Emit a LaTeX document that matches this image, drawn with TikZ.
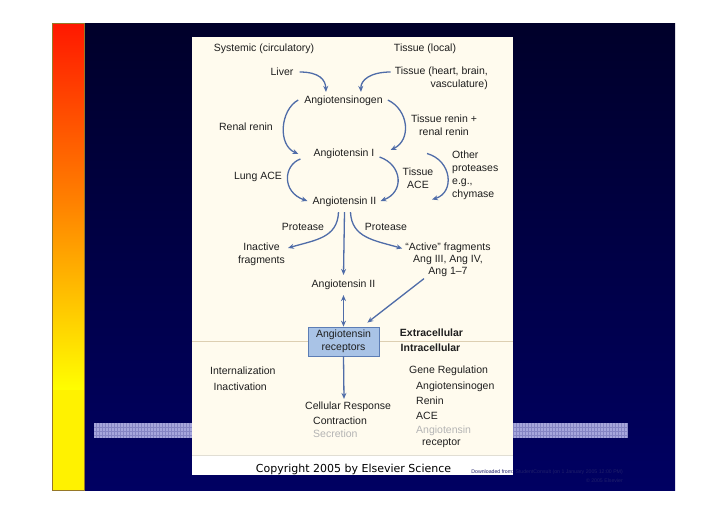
\documentclass[tikz,border=0pt]{standalone}
\usepackage{fontspec}
\setmainfont{Liberation Sans}
\newfontfamily\cfont{DejaVu Sans}
\usetikzlibrary{arrows.meta,calc}
\definecolor{arrc}{HTML}{4F6CA8}
\definecolor{txt}{HTML}{1E1E1E}
\definecolor{fadetxt}{HTML}{B4B4B4}
\definecolor{cream}{HTML}{FFFBEE}
\definecolor{boxfill}{HTML}{A9C3E6}
\definecolor{boxline}{HTML}{5C7DB5}
\definecolor{sepline}{HTML}{DDCFB2}
\definecolor{bgtop}{HTML}{00002A}
\definecolor{bgbot}{HTML}{000062}
\definecolor{bandc}{HTML}{A6A6DC}
\definecolor{bandl}{HTML}{8585C4}
\definecolor{tinyc}{HTML}{20206A}
\begin{document}
\begin{tikzpicture}[x=1pt,y=-1pt,
  lbl/.style={inner sep=0pt, text=txt, font=\fontsize{10.5}{13}\selectfont, align=center},
  lbll/.style={lbl, anchor=west, align=left},
  arr/.style={draw=arrc, line width=1.3pt, -{Stealth[length=6pt,width=5pt]}},
  darr/.style={draw=arrc, line width=1.3pt, {Stealth[length=6pt,width=5pt]}-{Stealth[length=6pt,width=5pt]}},
]
\useasboundingbox (0,0) rectangle (728,515);
\fill[white] (0,0) rectangle (728,515);
% slide background
\shade[top color=bgtop, bottom color=bgbot] (84,23) rectangle (675,490);
% left gradient bar
\shade[top color={rgb,255:red,255;green,24;blue,0}, bottom color={rgb,255:red,255;green,128;blue,0}] (52,23) rectangle (84,200);
\shade[top color={rgb,255:red,255;green,128;blue,0}, bottom color=yellow] (52,200) rectangle (84,390);
\fill[yellow] (52,390) rectangle (84,490);
\draw[draw={rgb,255:red,150;green,120;blue,40}, line width=0.5pt] (52,23) rectangle (84,490);
% band
\fill[bandc] (94,423) rectangle (628,438);
\foreach \x in {96,99,...,627} \draw[bandl, line width=0.5pt] (\x,423) -- (\x,438);
\foreach \y in {427,431,435} \draw[bandl, line width=0.5pt] (94,\y) -- (628,\y);
% panel
\fill[cream] (192,37) rectangle (513,455);
\fill[white] (192,455) rectangle (513,475);
\draw[draw={rgb,255:red,225;green,222;blue,212}, line width=0.8pt] (192,455) -- (513,455);
\draw[sepline, line width=1pt] (192,341) -- (513,341);

% texts
\node[lbl] (sys) at (264,49) {Systemic (circulatory)};
\node[lbl] (tisloc) at (425,49) {Tissue (local)};
\node[lbl] (liver) at (282,72) {Liver};
\node[lbl, anchor=east, align=right] (tisheart) at (488,78.5) {Tissue (heart, brain,\\vasculature)};
\node[lbl] (agt) at (343.5,101) {Angiotensinogen};
\node[lbl] (renal) at (246,127) {Renal renin};
\node[lbl] (tisrenin) at (444,125.5) {Tissue renin +\\renal renin};
\node[lbl] (ang1) at (344,154) {Angiotensin I};
\node[lbl] (lungace) at (258,177) {Lung ACE};
\node[lbl] (tisace) at (418,178.5) {Tissue\\ACE};
\node[lbl, anchor=west, align=left] (other) at (452,175.5) {Other\\proteases\\e.g.,\\chymase};
\node[lbl] (ang2) at (344.5,202) {Angiotensin II};
\node[lbl] (protL) at (303,227) {Protease};
\node[lbl] (protR) at (386,227) {Protease};
\node[lbl] (inact) at (261.5,254) {Inactive\\fragments};
\node[lbl, font=\fontsize{10.5}{12}\selectfont] (active) at (448,259.5) {``Active'' fragments\\Ang III, Ang IV,\\Ang 1--7};
\node[lbl] (ang2b) at (343.5,285) {Angiotensin II};
\node[lbl, fill=boxfill, draw=boxline, line width=0.8pt, minimum width=71pt, minimum height=29pt] (rec) at (343.5,341.5) {Angiotensin\\receptors};
\node[lbl, font=\bfseries\fontsize{10.5}{13}\selectfont] (extra) at (431.5,333) {Extracellular};
\node[lbl, font=\bfseries\fontsize{10.5}{13}\selectfont] (intra) at (430.5,348) {Intracellular};
\node[lbll] (intern) at (210,371) {Internalization};
\node[lbll] (inactiv) at (213.5,386.5) {Inactivation};
\node[lbll] (cellresp) at (305,407) {Cellular Response};
\node[lbll] (contr) at (313,421) {Contraction};
\node[lbll, text=fadetxt] (secr) at (313,434) {Secretion};
\node[lbll] (gene) at (409,371) {Gene Regulation};
\node[lbll] (gagt) at (416,387) {Angiotensinogen};
\node[lbll] (grenin) at (416,401) {Renin};
\node[lbll] (gace) at (416,416) {ACE};
\node[lbll, text=fadetxt] (gang) at (416,431) {Angiotensin};
\node[lbll] (grec) at (422,443) {receptor};

\node[inner sep=0pt, font=\cfont\fontsize{11}{13}\selectfont, text=black] (copy) at (353.5,469) {Copyright 2005 by Elsevier Science};
\node[inner sep=0pt, anchor=north east, align=right, text=tinyc, font=\fontsize{5.2}{9}\selectfont] (dl) at (623,470) {Downloaded from: StudentConsult (on 1 January 2005 12:00 PM)\\\textcopyright\ 2005 Elsevier};

% connectors
\draw[arr] ($(liver.east)+(6,0)$) .. controls ($(liver.east)+(26,0)$) and ($(agt.north)+(-18,-16)$) .. ($(agt.north)+(-17.5,-4)$);
\draw[arr] ($(tisheart.west)+(-4,-6.5)$) .. controls ($(tisheart.west)+(-24,-6.5)$) and ($(agt.north)+(17,-16)$) .. ($(agt.north)+(17.5,-4)$);
\draw[arr] ($(agt.west)+(-6,-1)$) .. controls ($(agt.west)+(-24,9)$) and ($(ang1.west)+(-36,-9)$) .. ($(ang1.west)+(-15,0)$);
\draw[arr] ($(agt.east)+(5,-1)$) .. controls ($(agt.east)+(26,9)$) and ($(ang1.east)+(37,-14)$) .. ($(ang1.east)+(16,-4)$);
\draw[arr] ($(ang1.west)+(-13,5)$) .. controls ($(ang1.west)+(-30,11)$) and ($(ang2.west)+(-31,-10)$) .. ($(ang2.west)+(-5,-1)$);
\draw[arr] ($(ang1.east)+(5,3)$) .. controls ($(ang1.east)+(28,11)$) and ($(ang2.east)+(28,-10)$) .. ($(ang2.east)+(4,-1)$);
\draw[arr] ($(other.west)+(-25,-22)$) .. controls ($(other.west)+(0,-15)$) and ($(other.west)+(3,17)$) .. ($(other.west)+(-20,24)$);
\draw[arr] ($(ang2.south)+(-6,5)$) .. controls ($(ang2.south)+(-7,31)$) and ($(inact.east)+(30,-14)$) .. ($(inact.east)+(3,-6)$);
\draw[arr] ($(ang2.south)+(6,5)$) .. controls ($(ang2.south)+(7,31)$) and ($(active.west)+(-30,-19)$) .. ($(active.west)+(-3,-11)$);
\draw[arr] ($(ang2.south)+(0,5)$) -- ($(ang2b.north)+(0,-5)$);
\draw[darr] ($(ang2b.south)+(0,5)$) -- (rec.north);
\draw[arr] ($(active.south)+(-24,2)$) -- ($(rec.north east)+(-12,-4)$);
\draw[arr] (rec.south) -- ($(cellresp.north west)+(39,-3)$);
\end{tikzpicture}
\end{document}
